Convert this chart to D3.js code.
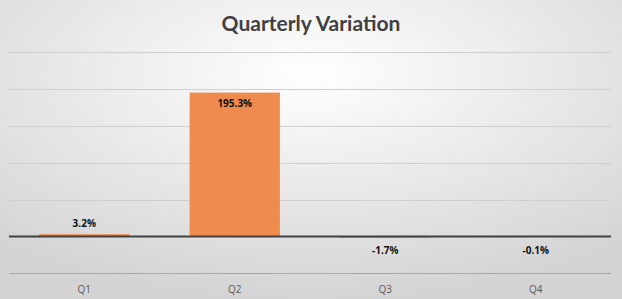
<!DOCTYPE html>
<html><head><meta charset="utf-8">
<script src="https://cdn.jsdelivr.net/npm/d3@7"></script>
<style>html,body{margin:0;padding:0;}svg{display:block;}</style>
</head><body>
<script>
const categories = ["Q1","Q2","Q3","Q4"];
const values = [3.2, 195.3, -1.7, -0.1];
const labels = ["3.2%","195.3%","-1.7%","-0.1%"];
const gridTicks = [-50, 0, 50, 100, 150, 200, 250];
const title = "Quarterly Variation";

const W = 622, H = 299;
const svg = d3.select("body").append("svg").attr("width", W).attr("height", H);
const defs = svg.append("defs");
const rg = defs.append("radialGradient").attr("id","bg").attr("cx","50%").attr("cy","25%").attr("r","75%");
rg.append("stop").attr("offset","0%").attr("stop-color","#ffffff");
rg.append("stop").attr("offset","100%").attr("stop-color","#d4d4d4");
svg.append("rect").attr("width",W).attr("height",H).attr("fill","url(#bg)");

const x = d3.scaleBand().domain(categories).range([9, 611]).padding(0);
const y = d3.scaleLinear().domain([-50, 250]).range([273.3, 52.3]);

svg.append("text").attr("x", W/2).attr("y", 31).attr("text-anchor","middle")
  .attr("font-family","Lato, 'Open Sans', sans-serif").attr("font-weight","bold")
  .attr("font-size", 21).attr("fill","#404040").text(title);

const g = svg.append("g");
g.selectAll("line.grid").data(gridTicks.filter(t => t !== 0)).join("line")
  .attr("x1", 9).attr("x2", 611)
  .attr("y1", d => Math.round(y(d)) + 0.5).attr("y2", d => Math.round(y(d)) + 0.5)
  .attr("stroke", d => d === -50 ? "#a8a8a8" : "#cfcfcf").attr("stroke-width", 1);

const bw = x.bandwidth() * 0.6;
g.selectAll("rect.bar").data(values).join("rect")
  .attr("x", (d,i) => x(categories[i]) + (x.bandwidth() - bw)/2)
  .attr("width", bw)
  .attr("y", d => y(Math.max(0, d)))
  .attr("height", d => Math.abs(y(d) - y(0)))
  .attr("fill", "#ef8c4d");

g.append("line").attr("x1", 9).attr("x2", 611).attr("y1", y(0)).attr("y2", y(0))
  .attr("stroke","#404040").attr("stroke-width", 2);

g.selectAll("text.lbl").data(values).join("text")
  .attr("x", (d,i) => x(categories[i]) + x.bandwidth()/2)
  .attr("y", (d,i) => i === 1 ? y(d) + 14 : (d >= 0 ? y(d) - 7 : y(0) + 18))
  .attr("text-anchor","middle").attr("font-family","'Open Sans', sans-serif")
  .attr("font-weight","bold").attr("font-size", 10).attr("fill","#111")
  .text((d,i) => labels[i]);

const xa = svg.append("g").attr("transform","translate(0,273.3)")
  .call(d3.axisBottom(x).tickSize(0).tickPadding(13));
xa.select(".domain").remove();
xa.selectAll("text").attr("font-family","'Open Sans', sans-serif").attr("font-size", 10).attr("fill","#595959");
</script>
</body></html>
